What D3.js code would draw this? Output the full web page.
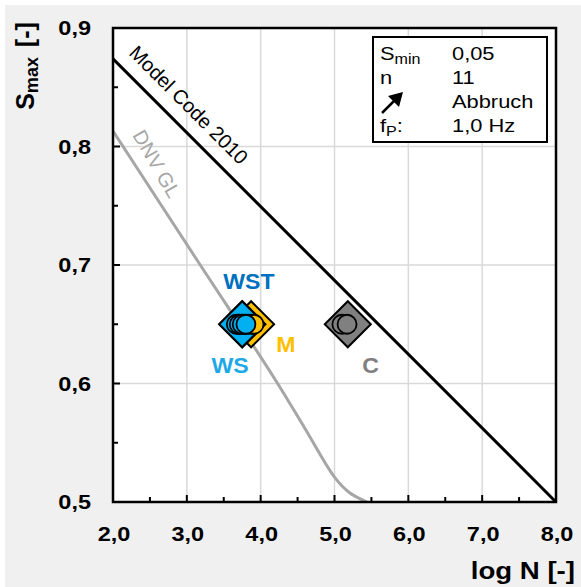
<!DOCTYPE html>
<html>
<head>
<meta charset="utf-8">
<script src="https://cdn.jsdelivr.net/npm/d3@7"></script>
<style>
  html, body { margin: 0; padding: 0; background: #ffffff; }
  svg { display: block; font-family: "Liberation Sans", Arial, sans-serif; }
</style>
</head>
<body>
<svg id="chart" width="581" height="587"></svg>
<script>
// Axis ticks
const xMajorTicks = [2, 3, 4, 5, 6, 7, 8];
const xMinorTicks = [2.5, 3.5, 4.5, 5.5, 6.5, 7.5];
const yMajorTicks = [0.5, 0.6, 0.7, 0.8, 0.9];
const yMinorTicks = [0.55, 0.65, 0.75, 0.85];

// Model Code 2010 fatigue line (S_min = 0,05)
const modelCodeLogN = [2.0, 8.0];
const modelCodeS = [0.874, 0.5];

// DNV GL fatigue curve
const dnvLogN = [2.0, 3.14, 4.2, 4.6, 5.0, 5.2, 5.44];
const dnvS = [0.813, 0.704, 0.603, 0.562, 0.521, 0.508, 0.500];

// Test series: mean values (diamonds) and single specimens (circles)
const seriesNames = ["M", "WST", "WS", "C"];
const seriesFill = ["#ffc000", "#0070c0", "#00b0f0", "#808080"];
const seriesLabelColor = ["#ffc000", "#0070c0", "#1ea8e6", "#808080"];
const meanLogN = [3.87, 3.75, 3.75, 5.18];
const meanS = [0.65, 0.65, 0.65, 0.65];
const specimenLogN = [
  [3.83, 3.87, 3.91],
  [3.70, 3.74, 3.78],
  [3.67, 3.71, 3.75, 3.80],
  [5.10, 5.17]
];
const specimenS = [
  [0.65, 0.65, 0.65],
  [0.65, 0.65, 0.65],
  [0.65, 0.65, 0.65, 0.65],
  [0.65, 0.65]
];
// Label anchor positions in data units
const labelLogN = [4.34, 3.84, 3.585, 5.49];
const labelS = [0.6325, 0.686, 0.615, 0.615];

// Info box rows
const infoLeft = ["S", "n", "", "f"];
const infoLeftSub = ["min", "", "", "P"];
const infoRight = ["0,05", "11", "Abbruch", "1,0 Hz"];

const W = 581, H = 587;
const margin = { left: 113, right: 25, top: 28, bottom: 85 };
const svg = d3.select("#chart");

// Panel background
svg.append("rect").attr("x", 5).attr("y", 5).attr("width", W - 5).attr("height", H - 5)
  .attr("fill", "#f0f0f0");

const x = d3.scaleLinear().domain([2, 8]).range([margin.left, W - margin.right]);
const y = d3.scaleLinear().domain([0.5, 0.9]).range([H - margin.bottom, margin.top]);

const x0 = x.range()[0], x1 = x.range()[1];
const y0 = y.range()[0], y1 = y.range()[1];

// Horizontally widened text, anchored at (tx, ty)
function wideText(sel, tx, ty, sx) {
  return sel.append("text").attr("transform", `translate(${tx},${ty}) scale(${sx},1)`);
}

// Plot area
svg.append("rect").attr("x", x0).attr("y", y1).attr("width", x1 - x0).attr("height", y0 - y1)
  .attr("fill", "#ffffff");

// Grid lines
const grid = svg.append("g").attr("stroke", "#d9d9d9").attr("stroke-width", 1.5);
grid.selectAll("line.gx").data(xMajorTicks.slice(1, -1)).join("line")
  .attr("x1", d => x(d)).attr("x2", d => x(d)).attr("y1", y0).attr("y2", y1);
grid.selectAll("line.gy").data(yMajorTicks.slice(1, -1)).join("line")
  .attr("y1", d => y(d)).attr("y2", d => y(d)).attr("x1", x0).attr("x2", x1);

svg.append("clipPath").attr("id", "plotClip")
  .append("rect").attr("x", x0).attr("y", y1).attr("width", x1 - x0).attr("height", y0 - y1);

const plot = svg.append("g").attr("clip-path", "url(#plotClip)");
const line = d3.line().x(d => x(d[0])).y(d => y(d[1]));

// DNV GL curve
plot.append("path")
  .datum(d3.zip(dnvLogN, dnvS))
  .attr("d", d3.line().x(d => x(d[0])).y(d => y(d[1])).curve(d3.curveCatmullRom.alpha(0.5)))
  .attr("fill", "none").attr("stroke", "#a6a6a6").attr("stroke-width", 3);

// Model Code 2010 line
plot.append("path")
  .datum(d3.zip(modelCodeLogN, modelCodeS))
  .attr("d", line)
  .attr("fill", "none").attr("stroke", "#000").attr("stroke-width", 3);

// Curve labels
const mcAngle = Math.atan2(y(modelCodeS[1]) - y(modelCodeS[0]), x(modelCodeLogN[1]) - x(modelCodeLogN[0])) * 180 / Math.PI;
svg.append("text")
  .attr("transform", `translate(${x(2.203)},${y(0.878)}) rotate(${mcAngle})`)
  .attr("font-size", 20).attr("fill", "#000")
  .text("Model Code 2010");

svg.append("text")
  .attr("transform", `translate(${x(2.257)},${y(0.8097)}) rotate(60)`)
  .attr("font-size", 20).attr("fill", "#a6a6a6")
  .text("DNV GL");

// Markers
const diamond = d3.symbol().type(d3.symbolSquare).size(1060);
const marks = svg.append("g");
const drawOrder = [0, 1, 2, 3];
drawOrder.forEach(i => {
  marks.append("path")
    .attr("d", diamond())
    .attr("transform", `translate(${x(meanLogN[i])},${y(meanS[i])}) rotate(45)`)
    .attr("fill", seriesFill[i]).attr("stroke", "#000").attr("stroke-width", 2);
});
drawOrder.forEach(i => {
  specimenLogN[i].forEach((v, j) => {
    marks.append("circle")
      .attr("cx", x(v)).attr("cy", y(specimenS[i][j])).attr("r", 9.5)
      .attr("fill", seriesFill[i]).attr("stroke", "#000").attr("stroke-width", 1.8);
  });
});

// Series labels
seriesNames.forEach((name, i) => {
  wideText(svg, x(labelLogN[i]), y(labelS[i]), 1.05)
    .attr("text-anchor", "middle").attr("dominant-baseline", "central")
    .attr("font-size", 22).attr("font-weight", "bold")
    .attr("fill", seriesLabelColor[i])
    .text(name);
});

// Ticks (inside the plot)
const ticks = svg.append("g").attr("stroke", "#000").attr("stroke-width", 2);
ticks.selectAll("line.xM").data(xMajorTicks).join("line")
  .attr("x1", d => x(d)).attr("x2", d => x(d)).attr("y1", y0).attr("y2", y0 - 7);
ticks.selectAll("line.xm").data(xMinorTicks).join("line").attr("class", "xm")
  .attr("x1", d => x(d)).attr("x2", d => x(d)).attr("y1", y0).attr("y2", y0 - 5);
ticks.selectAll("line.yM").data(yMajorTicks).join("line").attr("class", "yM")
  .attr("y1", d => y(d)).attr("y2", d => y(d)).attr("x1", x0).attr("x2", x0 + 7);
ticks.selectAll("line.ym").data(yMinorTicks).join("line").attr("class", "ym")
  .attr("y1", d => y(d)).attr("y2", d => y(d)).attr("x1", x0).attr("x2", x0 + 5);

// Plot frame
svg.append("rect").attr("x", x0).attr("y", y1).attr("width", x1 - x0).attr("height", y0 - y1)
  .attr("fill", "none").attr("stroke", "#000").attr("stroke-width", 2.5);

// Tick labels
const fmt = d => d3.format(".1f")(d).replace(".", ",");
xMajorTicks.forEach(d => {
  wideText(svg, x(d) + 1, y0 + 39, 1.12)
    .attr("text-anchor", "middle").attr("font-size", 21).attr("font-weight", "bold")
    .text(fmt(d));
});
yMajorTicks.forEach(d => {
  wideText(svg, x0 - 22, y(d) + 7, 1.12)
    .attr("text-anchor", "end").attr("font-size", 21).attr("font-weight", "bold")
    .text(fmt(d));
});

// Axis titles
wideText(svg, W - 6, H - 8, 1.15)
  .attr("text-anchor", "end").attr("font-size", 24).attr("font-weight", "bold")
  .text("log N [-]");

const yTitle = svg.append("text")
  .attr("transform", `translate(34, 66) rotate(-90)`)
  .attr("text-anchor", "middle").attr("font-size", 25).attr("font-weight", "bold");
yTitle.append("tspan").text("S");
yTitle.append("tspan").attr("font-size", 18).attr("dy", 4).text("max");
yTitle.append("tspan").attr("dy", -4).attr("dx", 3).text(" [-]");

// Info box
const bx = 373, by = 37, bw = 174, bh = 105;
const box = svg.append("g");
box.append("rect").attr("x", bx).attr("y", by).attr("width", bw).attr("height", bh)
  .attr("fill", "#fff").attr("stroke", "#000").attr("stroke-width", 2);
const rowY = [60, 84, 108, 132];
infoLeft.forEach((t, i) => {
  const tx = wideText(box, bx + 7, rowY[i], 1.15).attr("font-size", 19);
  tx.append("tspan").text(t);
  if (infoLeftSub[i]) tx.append("tspan").attr("font-size", 14).attr("dy", 4).text(infoLeftSub[i]);
  if (i === 3) tx.append("tspan").attr("dy", -4).text(":");
  wideText(box, bx + 79, rowY[i], 1.15).attr("font-size", 19).text(infoRight[i]);
});
// Run-out arrow symbol
const ax0 = bx + 9, ay0 = 113, ax1 = bx + 30, ay1 = 92;
box.append("line").attr("x1", ax0).attr("y1", ay0).attr("x2", ax1 - 6).attr("y2", ay1 + 6)
  .attr("stroke", "#000").attr("stroke-width", 2.5);
box.append("path")
  .attr("d", `M${ax1},${ay1} L${ax1 - 15},${ay1 + 4} L${ax1 - 4},${ay1 + 15} Z`)
  .attr("fill", "#000");
</script>
</body>
</html>
